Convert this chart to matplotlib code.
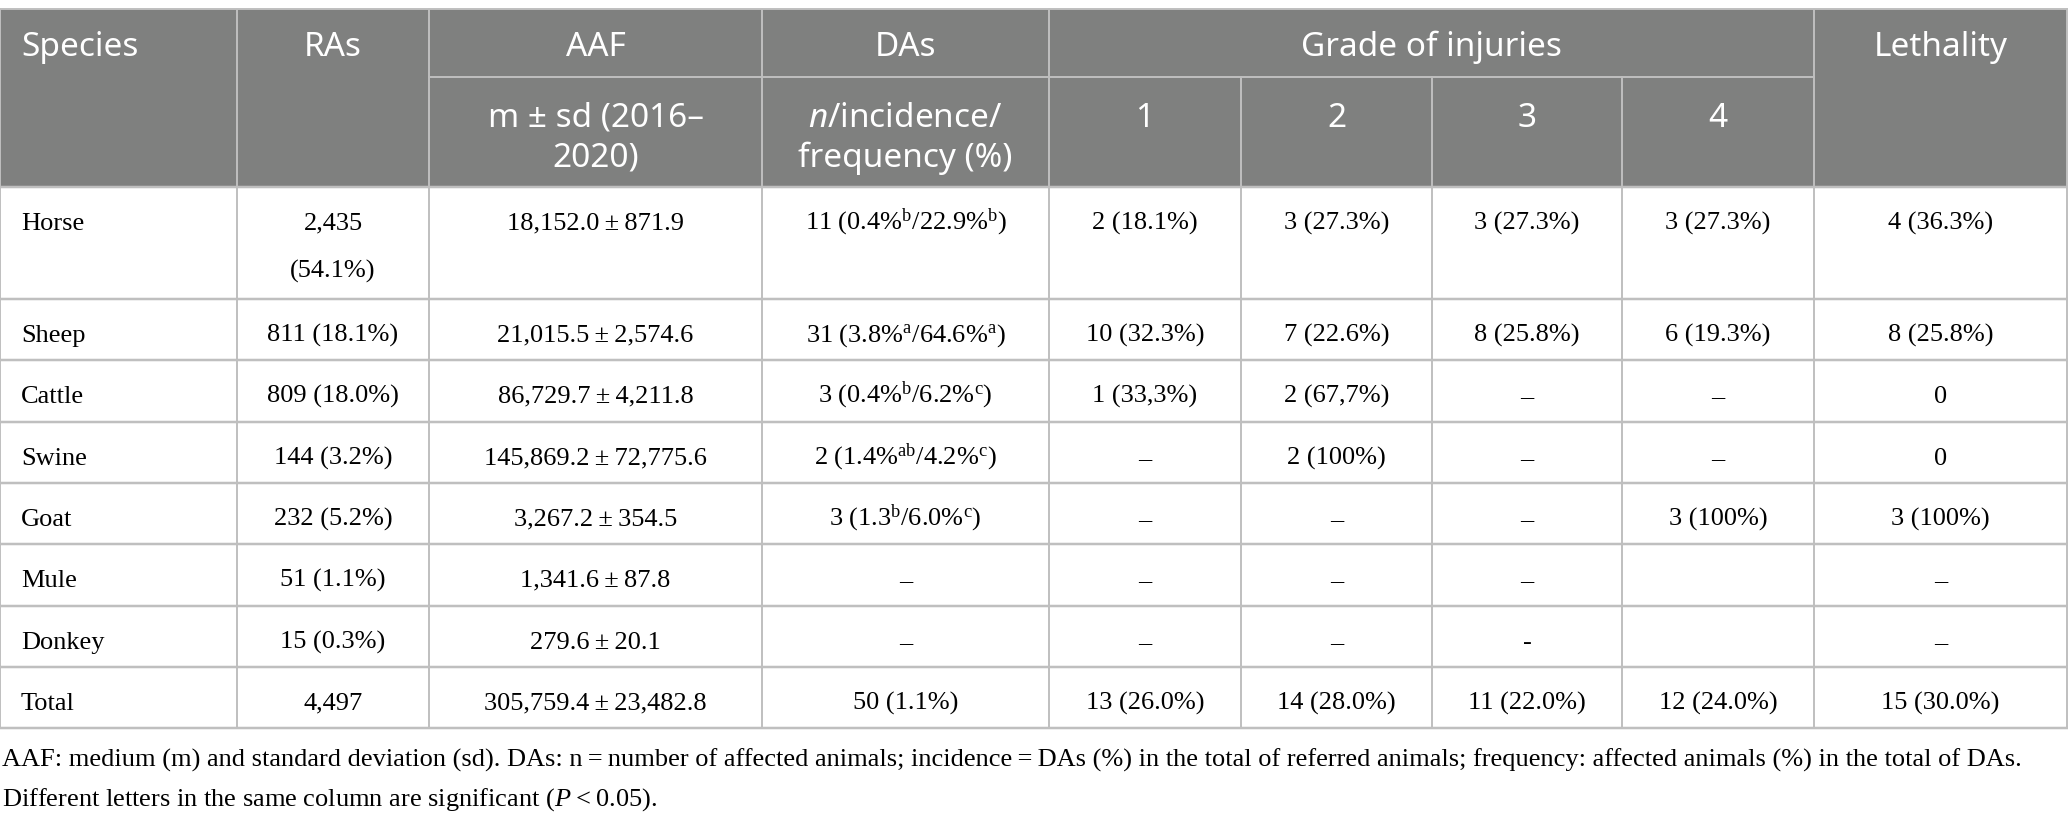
import matplotlib
matplotlib.use("Agg")
import matplotlib.pyplot as plt

plt.rcParams['mathtext.fontset'] = 'custom'
plt.rcParams['mathtext.rm'] = 'Liberation Serif'
plt.rcParams['mathtext.it'] = 'Liberation Serif:italic'
plt.rcParams['mathtext.sf'] = 'Noto Sans:italic'

# table content
species = ['Horse', 'Sheep', 'Cattle', 'Swine', 'Goat', 'Mule', 'Donkey', 'Total']
ras = ['2,435\n(54.1%)', '811 (18.1%)', '809 (18.0%)', '144 (3.2%)', '232 (5.2%)',
       '51 (1.1%)', '15 (0.3%)', '4,497']
aaf = ['18,152.0\u2009±\u2009871.9', '21,015.5\u2009±\u20092,574.6', '86,729.7\u2009±\u20094,211.8',
       '145,869.2\u2009±\u200972,775.6', '3,267.2\u2009±\u2009354.5', '1,341.6\u2009±\u200987.8',
       '279.6\u2009±\u200920.1', '305,759.4\u2009±\u200923,482.8']
das = [r'11 (0.4%$^{\mathrm{b}}$/22.9%$^{\mathrm{b}}$)',
       r'31 (3.8%$^{\mathrm{a}}$/64.6%$^{\mathrm{a}}$)',
       r'3 (0.4%$^{\mathrm{b}}$/6.2%$^{\mathrm{c}}$)',
       r'2 (1.4%$^{\mathrm{ab}}$/4.2%$^{\mathrm{c}}$)',
       r'3 (1.3$^{\mathrm{b}}$/6.0%$^{\mathrm{c}}$)',
       '–', '–', '50 (1.1%)']
grade1 = ['2 (18.1%)', '10 (32.3%)', '1 (33,3%)', '–', '–', '–', '–', '13 (26.0%)']
grade2 = ['3 (27.3%)', '7 (22.6%)', '2 (67,7%)', '2 (100%)', '–', '–', '–', '14 (28.0%)']
grade3 = ['3 (27.3%)', '8 (25.8%)', '–', '–', '–', '–', '-', '11 (22.0%)']
grade4 = ['3 (27.3%)', '6 (19.3%)', '–', '–', '3 (100%)', '', '', '12 (24.0%)']
lethality = ['4 (36.3%)', '8 (25.8%)', '0', '0', '3 (100%)', '–', '–', '15 (30.0%)']

top_headers = ['Species', 'RAs', 'AAF', 'DAs', 'Grade of injuries', 'Lethality']
sub_headers = ['m ± sd (2016–\n2020)', '$\\mathsf{n}$/incidence/\nfrequency (%)', '1', '2', '3', '4']

footnote = ['AAF: medium (m) and standard deviation (sd). DAs: n\u2009=\u2009number of affected animals; '
            'incidence\u2009=\u2009DAs (%) in the total of referred animals; frequency: affected animals (%) '
            'in the total of DAs.',
            'Different letters in the same column are significant ($P$\u2009<\u20090.05).']

columns = [species, ras, aaf, das, grade1, grade2, grade3, grade4, lethality]

# layout (pixels)
W, H = 2068, 822
col_x = [0, 237, 429, 762, 1049, 1241, 1432, 1622, 1814, 2067]
head_y = [9, 77, 187]
row_y = [187, 299, 360, 422, 483, 544, 606, 667, 728]

HEAD_BG = '#7f807f'
LINE = '#bfbfbf'
SANS = 'Noto Sans'
SERIF = 'Liberation Serif'

fig = plt.figure(figsize=(W / 100, H / 100), dpi=100)
ax = fig.add_axes([0, 0, 1, 1])
ax.set_xlim(0, W)
ax.set_ylim(H, 0)
ax.axis('off')


def put(x, yc, s, size, family, cap, lead, ha='center', color='black'):
    px = size * 100 / 72
    for i, line in enumerate(s.split('\n')):
        ax.text(x, yc + i * lead + cap * px / 2, line, ha=ha, va='baseline',
                fontsize=size, family=family, color=color)


# header block
ax.add_patch(plt.Rectangle((0, head_y[0]), col_x[-1], head_y[2] - head_y[0],
                           facecolor=HEAD_BG, edgecolor='none'))
lw = 1.4
ax.plot([0, col_x[-1]], [head_y[0], head_y[0]], color=LINE, lw=lw)
ax.plot([col_x[2], col_x[8]], [head_y[1], head_y[1]], color=LINE, lw=lw)
for i in [0, 1, 2, 3, 4, 8, 9]:
    ax.plot([col_x[i], col_x[i]], [head_y[0], row_y[-1]], color=LINE, lw=lw)
for i in [5, 6, 7]:
    ax.plot([col_x[i], col_x[i]], [head_y[1], row_y[-1]], color=LINE, lw=lw)
for y in row_y:
    ax.plot([0, col_x[-1]], [y, y], color=LINE, lw=lw + 0.4)

# header text
HS = 24
top_spans = [(0, 1), (1, 2), (2, 3), (3, 4), (4, 8), (8, 9)]
for (a, b), label in zip(top_spans, top_headers):
    if label == 'Species':
        put(21, 44, label, HS, SANS, 0.714, 40, ha='left', color='white')
    else:
        put((col_x[a] + col_x[b]) / 2, 44, label, HS, SANS, 0.714, 40, color='white')
for j, label in enumerate(sub_headers):
    c = j + 2
    put((col_x[c] + col_x[c + 1]) / 2, 115, label, HS, SANS, 0.714, 40, color='white')

# body
BS = 19
for c, col in enumerate(columns):
    for r, val in enumerate(col):
        if not val:
            continue
        yc = row_y[r] + 34
        if c == 0:
            put(21, yc, val, BS, SERIF, 0.662, 48, ha='left')
        else:
            put((col_x[c] + col_x[c + 1]) / 2, yc, val, BS, SERIF, 0.662, 48)

# footnote
for i, line in enumerate(footnote):
    put(2, 758 + i * 39, line, BS, SERIF, 0.662, 39, ha='left')

fig.savefig('out.png', dpi=100, facecolor='white')
